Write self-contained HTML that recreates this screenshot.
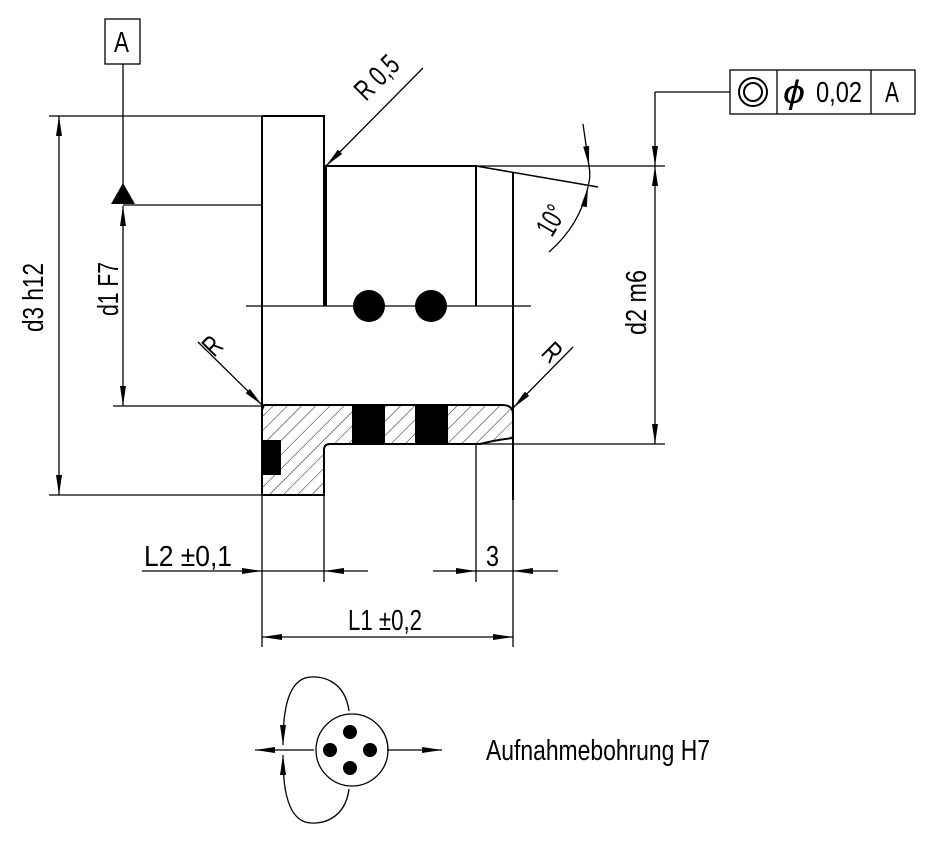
<!DOCTYPE html>
<html><head><meta charset="utf-8"><style>html,body{margin:0;padding:0;background:#fff}svg{display:block}text{font-family:"Liberation Sans",sans-serif;fill:#000}</style></head><body>
<svg width="937" height="841" viewBox="0 0 937 841" xmlns="http://www.w3.org/2000/svg">
<defs>
<pattern id="h" patternUnits="userSpaceOnUse" width="10" height="10" patternTransform="rotate(45)"><line x1="0" y1="0" x2="0" y2="10" stroke="#000" stroke-width="0.9"/></pattern>
<marker id="a" viewBox="0 0 20 8" refX="20" refY="4" markerWidth="20" markerHeight="8" markerUnits="userSpaceOnUse" orient="auto-start-reverse"><path d="M0,1 L20,4 L0,7 Z" fill="#000"/></marker>
</defs>
<g stroke="#000" fill="none" stroke-width="1.3">
<path d="M262,116 H324 V306" stroke-width="2"/>
<path d="M262,116 V495" stroke-width="2"/>
<path d="M326,306 V166 H476 V306" stroke-width="2"/>
<path d="M476,166 L598,187" stroke-width="1.5"/>
<path d="M513,173 V500" stroke-width="2"/>
<line x1="246" y1="306" x2="531" y2="306" stroke-width="1.3"/>
<path d="M264,405 H502 Q513,405 513,414 V438 Q495,440 480,444 H330 Q324,444 324,450 V495 H262 V410 Z" fill="url(#h)" stroke-width="2"/>
<rect x="352" y="405" width="33" height="39" fill="#000" stroke="none"/>
<rect x="415" y="405" width="33" height="39" fill="#000" stroke="none"/>
<rect x="262" y="440" width="19" height="35" fill="#000" stroke="none"/>
<line x1="476" y1="444" x2="665" y2="444"/>
<line x1="49" y1="116" x2="262" y2="116"/>
<line x1="49" y1="495" x2="262" y2="495"/>
<line x1="59" y1="116" x2="59" y2="495" marker-start="url(#a)" marker-end="url(#a)"/>
<line x1="123" y1="64" x2="123" y2="185"/>
<line x1="123" y1="205" x2="262" y2="205"/>
<line x1="113" y1="406" x2="262" y2="406"/>
<line x1="123" y1="206" x2="123" y2="406" marker-start="url(#a)" marker-end="url(#a)"/>
<rect x="105" y="19" width="35" height="45"/>
<line x1="198" y1="342" x2="262" y2="405" marker-end="url(#a)"/>
<line x1="573" y1="347" x2="513" y2="408" marker-end="url(#a)"/>
<line x1="423" y1="68" x2="326" y2="166" marker-end="url(#a)"/>
<line x1="476" y1="166" x2="665" y2="166"/>
<line x1="655" y1="92" x2="730" y2="92"/>
<line x1="655" y1="92" x2="655" y2="166" marker-end="url(#a)"/>
<line x1="655" y1="166" x2="655" y2="444" marker-start="url(#a)" marker-end="url(#a)"/>
<rect x="730" y="70" width="185" height="44"/>
<line x1="777" y1="70" x2="777" y2="114"/>
<line x1="871" y1="70" x2="871" y2="114"/>
<circle cx="753" cy="92" r="14" stroke-width="2"/>
<circle cx="753" cy="92" r="9" stroke-width="2"/>
<line x1="583" y1="124" x2="589" y2="166" marker-end="url(#a)"/>
<path d="M549,252 Q580,225 588,187" marker-end="url(#a)"/>
<path d="M589,166 Q591,176 588,187"/>
<line x1="324" y1="495" x2="324" y2="582"/>
<line x1="262" y1="495" x2="262" y2="647"/>
<line x1="476" y1="444" x2="476" y2="582"/>
<line x1="513" y1="495" x2="513" y2="647"/>
<line x1="142" y1="571" x2="262" y2="571" marker-end="url(#a)"/>
<line x1="262" y1="571" x2="324" y2="571"/>
<line x1="368" y1="571" x2="324" y2="571" marker-end="url(#a)"/>
<line x1="433" y1="571" x2="476" y2="571" marker-end="url(#a)"/>
<line x1="476" y1="571" x2="513" y2="571"/>
<line x1="558" y1="571" x2="513" y2="571" marker-end="url(#a)"/>
<line x1="262" y1="637" x2="513" y2="637" marker-start="url(#a)" marker-end="url(#a)"/>
<circle cx="352" cy="750" r="36"/>
<line x1="314" y1="750" x2="255" y2="750" marker-end="url(#a)"/>
<line x1="387" y1="750" x2="442" y2="750" marker-end="url(#a)"/>
<path d="M349,711 C345,680 320,674 305,678 C285,685 283,720 283,745" marker-end="url(#a)"/>
<path d="M349,789 C345,820 320,826 305,822 C285,815 283,780 283,755" marker-end="url(#a)"/>
</g>
<path d="M123,183 L111,204 L135,204 Z" fill="#000"/>
<circle cx="369" cy="306" r="16" fill="#000"/>
<circle cx="431" cy="306" r="16" fill="#000"/>
<circle cx="350" cy="732" r="7" fill="#000"/>
<circle cx="330" cy="750" r="7" fill="#000"/>
<circle cx="370" cy="750" r="7" fill="#000"/>
<circle cx="350" cy="768" r="7" fill="#000"/>
<g font-size="29">
<text x="114" y="52" textLength="15" lengthAdjust="spacingAndGlyphs">A</text>
<text x="885" y="102" textLength="14" lengthAdjust="spacingAndGlyphs">A</text>
<text x="816" y="102" textLength="46" lengthAdjust="spacingAndGlyphs">0,02</text>
<text x="783" y="103" font-size="32" font-style="italic" textLength="22" lengthAdjust="spacingAndGlyphs">ϕ</text>
<text transform="translate(43,332) rotate(-90)" textLength="69" lengthAdjust="spacingAndGlyphs">d3 h12</text>
<text transform="translate(118,316) rotate(-90)" textLength="54" lengthAdjust="spacingAndGlyphs">d1 F7</text>
<text transform="translate(646,335) rotate(-90)" textLength="65" lengthAdjust="spacingAndGlyphs">d2 m6</text>
<text transform="translate(366,102) rotate(-45)" textLength="50" lengthAdjust="spacingAndGlyphs">R 0,5</text>
<text transform="translate(214,358) rotate(-45)" textLength="15" lengthAdjust="spacingAndGlyphs">R</text>
<text transform="translate(540,354) rotate(45)" textLength="15" lengthAdjust="spacingAndGlyphs">R</text>
<text transform="translate(552,238) rotate(-60)" textLength="30" lengthAdjust="spacingAndGlyphs">10°</text>
<text x="144" y="566" textLength="88" lengthAdjust="spacingAndGlyphs">L2 ±0,1</text>
<text x="486" y="566" textLength="13" lengthAdjust="spacingAndGlyphs">3</text>
<text x="348" y="630" textLength="74" lengthAdjust="spacingAndGlyphs">L1 ±0,2</text>
<text x="486" y="760" textLength="224" lengthAdjust="spacingAndGlyphs">Aufnahmebohrung H7</text>
</g>
</svg>
</body></html>
